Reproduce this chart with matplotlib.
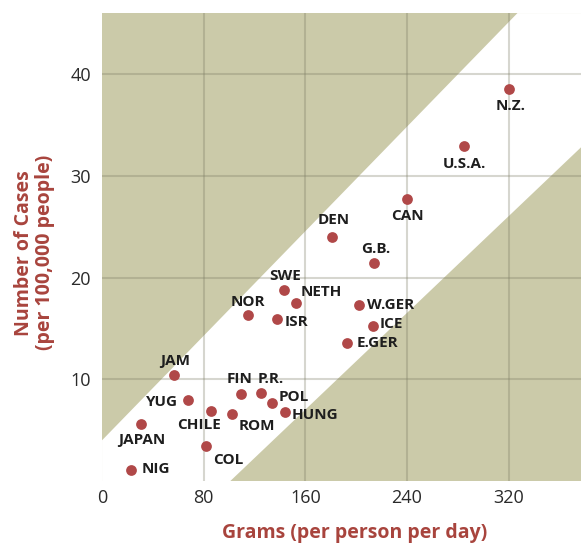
import matplotlib.pyplot as plt
from matplotlib.patches import Polygon

plt.rcParams['font.family'] = ['Open Sans', 'DejaVu Sans']

# data
countries = ['N.Z.', 'U.S.A.', 'CAN', 'DEN', 'G.B.', 'SWE', 'NETH', 'ISR', 'NOR',
             'W.GER', 'ICE', 'E.GER', 'JAM', 'YUG', 'JAPAN', 'NIG', 'CHILE', 'ROM',
             'COL', 'FIN', 'P.R.', 'POL', 'HUNG']
grams = [320, 285, 240, 181, 214, 143, 153, 138, 115,
         202, 213, 193, 57, 68, 31, 23, 86, 102,
         82, 109, 125, 134, 144]
cases = [38.5, 32.9, 27.7, 24.0, 21.4, 18.8, 17.5, 15.9, 16.3,
         17.3, 15.2, 13.6, 10.4, 8.0, 5.6, 1.1, 6.9, 6.6,
         3.4, 8.6, 8.7, 7.7, 6.8]

# label offsets (points) and alignment
offsets = {
    'N.Z.': (1.4, -12.2, 'center'), 'U.S.A.': (0, -12.5, 'center'), 'CAN': (0.7, -12, 'center'),
    'DEN': (1, 12, 'center'), 'G.B.': (1, 10, 'center'), 'SWE': (1, 10, 'center'),
    'NETH': (3, 7.6, 'left'), 'ISR': (5.5, -2, 'left'), 'NOR': (0, 9.8, 'center'),
    'W.GER': (6, 0, 'left'), 'ICE': (5.3, 2, 'left'), 'E.GER': (7, 0, 'left'),
    'JAM': (0.5, 10.3, 'center'), 'YUG': (-7.7, -1.4, 'right'), 'JAPAN': (0, -11.7, 'center'),
    'NIG': (7.2, 0.7, 'left'), 'CHILE': (-8.9, -10.3, 'center'), 'ROM': (18, -8.4, 'center'),
    'COL': (15.8, -10, 'center'), 'FIN': (-0.5, 10.3, 'center'), 'P.R.': (7, 9.6, 'center'),
    'POL': (4.8, 4, 'left'), 'HUNG': (4.8, -2.2, 'left'),
}

khaki = '#cbcaa9'
dot = '#b04848'
red_text = '#a8443d'

fig = plt.figure(figsize=(5.81, 5.44), dpi=100)
ax = fig.add_axes([0.1756, 0.1158, 0.8244, 0.8602])
ax.set_xlim(0, 377)
ax.set_ylim(0, 46)
ax.set_facecolor(khaki)

# white band between the two diagonal lines
band = Polygon([(0, 4), (0, 0), (101, 0), (377, 32.8), (377, 46), (327, 46)],
               closed=True, facecolor='white', edgecolor='none', zorder=1)
ax.add_patch(band)

for v in [80, 160, 240, 320]:
    ax.axvline(v, color='#7a7a62', alpha=0.3, lw=1.5, zorder=2)
for v in [10, 20, 30, 40]:
    ax.axhline(v, color='#7a7a62', alpha=0.3, lw=1.5, zorder=2)

ax.scatter(grams, cases, s=60, color=dot, zorder=4, linewidths=0)

for name, gx, cy in zip(countries, grams, cases):
    dx, dy, ha = offsets[name]
    ax.annotate(name, (gx, cy), xytext=(dx, dy), textcoords='offset points',
                ha=ha, va='center', fontsize=11, fontweight='bold', color='#1e1e1e',
                zorder=5)

ax.set_xticks([0, 80, 160, 240, 320])
ax.set_yticks([10, 20, 30, 40])
ax.tick_params(length=0, labelsize=13, colors='#2a2a2a')
ax.tick_params(axis='x', pad=6)
ax.tick_params(axis='y', pad=8)
for s in ax.spines.values():
    s.set_visible(False)

ax.set_xlabel('Grams (per person per day)', fontsize=14, fontweight='bold',
              color=red_text)
ax.xaxis.set_label_coords(0.528, -0.089)
ax.set_ylabel('Number of Cases\n(per 100,000 people)', fontsize=14,
              fontweight='bold', color=red_text, linespacing=1.1)
ax.yaxis.set_label_coords(-0.098, 0.488)

fig.savefig('out.png', dpi=100)
